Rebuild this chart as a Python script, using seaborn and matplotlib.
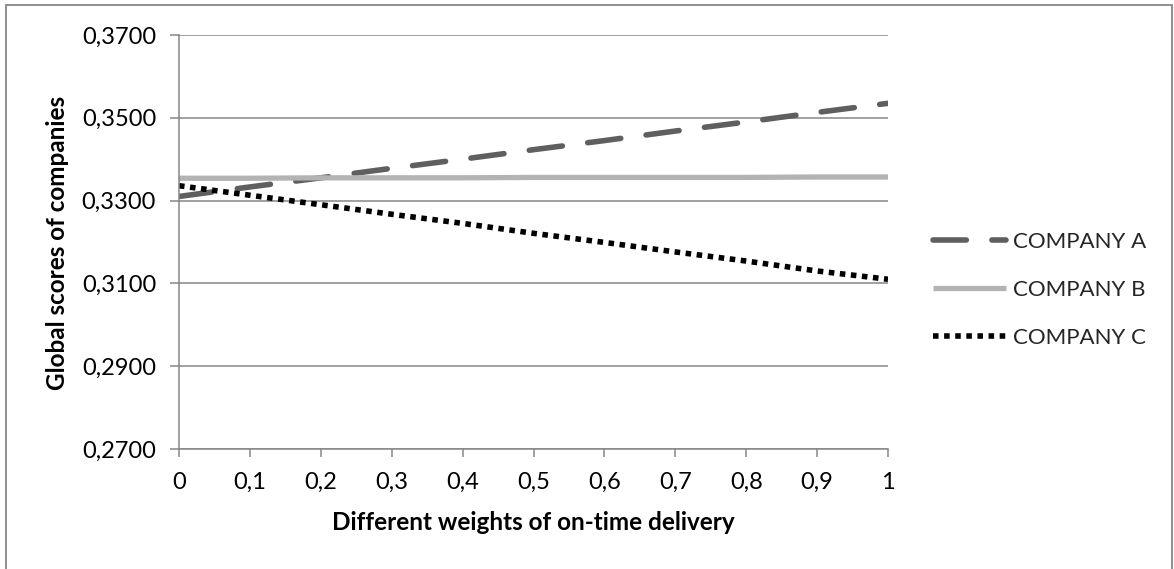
import matplotlib
matplotlib.use("Agg")
import matplotlib.pyplot as plt
from matplotlib.patches import Rectangle
from matplotlib.ticker import FixedLocator, FixedFormatter
import seaborn as sns
import pandas as pd

# Sensitivity of the global scores to the weight given to on-time delivery
weights = [0.0, 0.1, 0.2, 0.3, 0.4, 0.5, 0.6, 0.7, 0.8, 0.9, 1.0]
company_a = [0.3310, 0.3333, 0.3355, 0.3378, 0.3400, 0.3423, 0.3445, 0.3468, 0.3490, 0.3513, 0.3535]
company_b = [0.3354, 0.3354, 0.3355, 0.3355, 0.3355, 0.3356, 0.3356, 0.3356, 0.3356, 0.3357, 0.3357]
company_c = [0.3336, 0.3313, 0.3290, 0.3267, 0.3245, 0.3221, 0.3199, 0.3176, 0.3154, 0.3130, 0.3110]
series_names = ["COMPANY A", "COMPANY B", "COMPANY C"]

y_ticks = [0.27, 0.29, 0.31, 0.33, 0.35, 0.37]
y_tick_labels = ["0,2700", "0,2900", "0,3100", "0,3300", "0,3500", "0,3700"]
x_ticks = weights
x_tick_labels = ["0", "0,1", "0,2", "0,3", "0,4", "0,5", "0,6", "0,7", "0,8", "0,9", "1"]

x_title = "Different weights of on-time delivery"
y_title = "Global scores of companies"

df = pd.DataFrame({"weight": weights, "COMPANY A": company_a,
                   "COMPANY B": company_b, "COMPANY C": company_c})

sns.set_theme(style="white")
plt.rcParams["font.family"] = ["Lato", "DejaVu Sans"]

W, H = 1174, 569
fig = plt.figure(figsize=(W / 100, H / 100), dpi=100)
ax = fig.add_axes([179 / W, 1 - 449 / H, (888 - 179) / W, (449 - 35) / H])

grid_col = "#868686"
styles = {
    "COMPANY A": dict(color="#5f5f5f", lw=4.0, linestyle=(0, (6, 4.6)),
                      dash_capstyle="round"),
    "COMPANY B": dict(color="#b3b3b3", lw=3.8, linestyle="-",
                      solid_capstyle="butt"),
    "COMPANY C": dict(color="#000000", lw=4.0, linestyle=(0, (1, 1)),
                      dash_capstyle="butt"),
}
for name in series_names:
    sns.lineplot(data=df, x="weight", y=name, ax=ax, label=name, **styles[name])

ax.set_xlim(x_ticks[0], x_ticks[-1])
ax.set_ylim(y_ticks[0], y_ticks[-1])
ax.yaxis.set_major_locator(FixedLocator(y_ticks))
ax.yaxis.set_major_formatter(FixedFormatter(y_tick_labels))
ax.xaxis.set_major_locator(FixedLocator(x_ticks))
ax.xaxis.set_major_formatter(FixedFormatter(x_tick_labels))

ax.grid(axis="y", color=grid_col, lw=1.1)
ax.grid(axis="x", visible=False)
ax.set_axisbelow(True)
for side in ("top", "right"):
    ax.spines[side].set_visible(False)
for side in ("left", "bottom"):
    ax.spines[side].set_color(grid_col)
    ax.spines[side].set_linewidth(1.1)

ax.tick_params(axis="y", direction="out", length=6.5, width=1.1, color=grid_col,
               labelsize=17, labelcolor="black", pad=10, left=True)
ax.tick_params(axis="x", direction="out", length=5.5, width=1.1, color=grid_col,
               labelsize=17, labelcolor="black", pad=11, bottom=True)

ax.set_xlabel("")
ax.set_ylabel("")
fig.text(533 / W, 1 - 522 / H, x_title, ha="center", va="center",
         fontsize=17.5, fontweight="bold", color="black")
fig.text(58 / W, 1 - 243 / H, y_title, ha="center", va="center", rotation=90,
         fontsize=17.5, fontweight="bold", color="black")

ax.legend(loc="center left", bbox_to_anchor=(933 / W, 1 - 290 / H),
          bbox_transform=fig.transFigure, frameon=False, fontsize=16,
          handlelength=3.3, handletextpad=0.3, labelspacing=1.25,
          borderpad=0, borderaxespad=0)

# outer chart border
fig.patches.append(Rectangle((6 / W, -0.05), (1172 - 6) / W, 1.05 - 5 / H,
                             transform=fig.transFigure, fill=False,
                             edgecolor=grid_col, lw=1.3))

fig.savefig("out.png", dpi=100, facecolor="white")
